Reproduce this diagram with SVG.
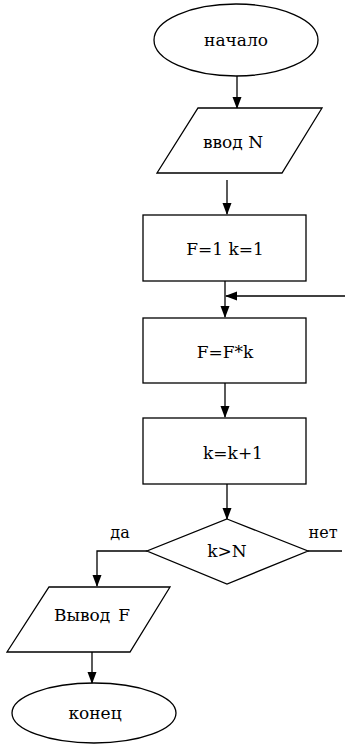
<svg xmlns="http://www.w3.org/2000/svg" width="345" height="745" viewBox="0 0 345 745">
<style>
.s{fill:#fff;stroke:#000;stroke-width:1.3}
.t{font-family:"DejaVu Serif",serif;font-size:17px;fill:#000;text-anchor:middle}
.c{fill:none;stroke:#000;stroke-width:1.3}
</style>
<defs>
<marker id="a" markerWidth="12" markerHeight="12" refX="11" refY="6" orient="auto" markerUnits="userSpaceOnUse">
<path d="M0,1.5 L12,6 L0,10.5 Z" fill="#000"/>
</marker>
</defs>
<rect width="345" height="745" fill="#fff"/>
<g id="connectors">
<line class="c" x1="237" y1="76" x2="237" y2="108" marker-end="url(#a)"/>
<line class="c" x1="227" y1="180" x2="227" y2="214" marker-end="url(#a)"/>
<line class="c" x1="225" y1="281" x2="225" y2="317" marker-end="url(#a)"/>
<line class="c" x1="345" y1="296" x2="226" y2="296" marker-end="url(#a)"/>
<line class="c" x1="225" y1="383" x2="225" y2="417" marker-end="url(#a)"/>
<line class="c" x1="227" y1="484" x2="227" y2="519" marker-end="url(#a)"/>
<polyline class="c" points="147,551 97,551 97,586" marker-end="url(#a)"/>
<line class="c" x1="308" y1="551" x2="342" y2="551"/>
<line class="c" x1="92" y1="652" x2="92" y2="683" marker-end="url(#a)"/>
<text class="t" x="120" y="538" style="font-size:16px">да</text>
<text class="t" x="323" y="538" style="font-size:16px">нет</text>
</g>
<g id="start">
<ellipse class="s" cx="236" cy="40" rx="82" ry="36"/>
<text class="t" x="236" y="46">начало</text>
</g>
<g id="input">
<polygon class="s" points="198,108 322,108 282,173 157,173"/>
<text class="t" x="233" y="148">ввод N</text>
</g>
<g id="init">
<rect class="s" x="143" y="215" width="163" height="66"/>
<text class="t" x="225" y="255">F=1 k=1</text>
</g>
<g id="mult">
<rect class="s" x="143" y="318" width="163" height="65"/>
<text class="t" x="225" y="358">F=F*k</text>
</g>
<g id="inc">
<rect class="s" x="143" y="418" width="163" height="66"/>
<text class="t" x="233" y="459">k=k+1</text>
</g>
<g id="cond">
<polygon class="s" points="227,519 308,551 227,584 147,551"/>
<text class="t" x="227" y="557">k&gt;N</text>
</g>
<g id="output">
<polygon class="s" points="49,587 170,587 130,652 7,652"/>
<text class="t" x="92" y="621">Вывод<tspan dx="8">F</tspan></text>
</g>
<g id="end">
<ellipse class="s" cx="94" cy="713" rx="82" ry="30"/>
<text class="t" x="95" y="719">конец</text>
</g>
</svg>
